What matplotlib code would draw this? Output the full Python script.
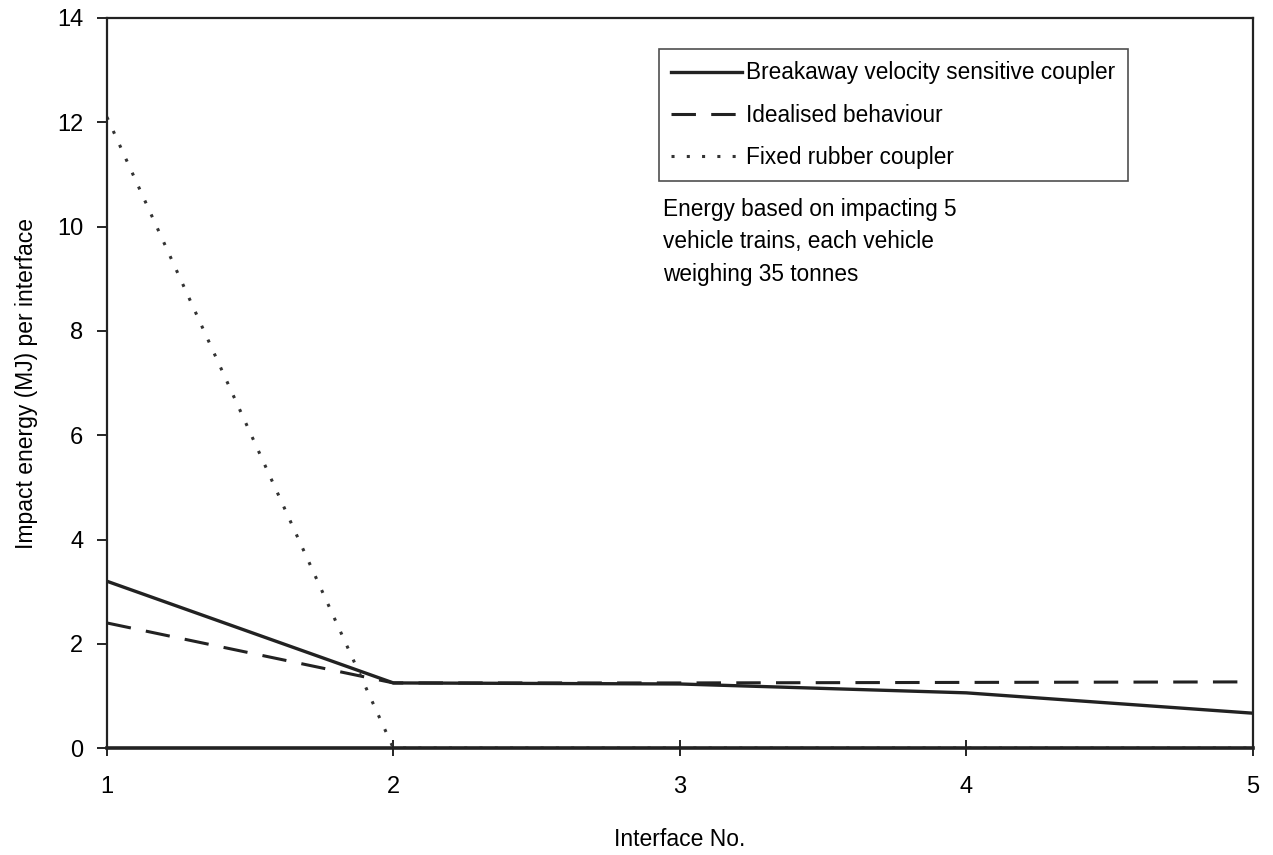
import matplotlib.pyplot as plt

plt.rcParams['font.family'] = ['Liberation Sans', 'DejaVu Sans']

# data
interfaces = [1, 2, 3, 4, 5]
breakaway = [3.2, 1.25, 1.23, 1.06, 0.67]
idealised = [2.4, 1.25, 1.25, 1.26, 1.27]
fixed_rubber = [12.1, 0.0, 0.0, 0.0, 0.0]

fig = plt.figure(figsize=(12.73, 8.55), dpi=100)
ax = fig.add_axes([0.084, 0.125, 0.9, 0.854])

ax.plot(interfaces, breakaway, color='#222222', lw=2.4, ls='-',
        label='Breakaway velocity sensitive coupler')
ax.plot(interfaces, idealised, color='#222222', lw=2.2, ls=(0, (8, 5)),
        label='Idealised behaviour')
ax.plot(interfaces, fixed_rubber, color='#333333', lw=2.2, ls=(0, (1, 4)),
        label='Fixed rubber coupler')

ax.set_xlim(1, 5)
ax.set_ylim(0, 14)
ax.set_xticks(interfaces)
ax.set_yticks(range(0, 15, 2))
ax.tick_params(axis='x', direction='inout', length=12, width=1.2, labelsize=17, pad=14)
ax.tick_params(axis='y', direction='out', length=7, width=1.2, labelsize=17, pad=10)
for s in ax.spines.values():
    s.set_linewidth(1.6)
    s.set_color('#222222')
ax.spines['bottom'].set_linewidth(2.6)

ax.set_xlabel('Interface No.', fontsize=16.5, labelpad=22)
ax.set_ylabel('Impact energy (MJ) per interface', fontsize=16.5, labelpad=14)

leg = ax.legend(loc='upper right', bbox_to_anchor=(0.891, 0.9575), fontsize=16.3,
                frameon=True, fancybox=False, handlelength=3.1, handletextpad=0.2,
                borderpad=0.55, labelspacing=0.85, borderaxespad=0)
leg.get_frame().set_edgecolor('#222222')
leg.get_frame().set_linewidth(1.2)

ax.text(0.485, 0.754, 'Energy based on impacting 5\nvehicle trains, each vehicle\nweighing 35 tonnes',
        transform=ax.transAxes, fontsize=16.3, va='top', ha='left', linespacing=1.55)

fig.savefig('out.png', dpi=100)
